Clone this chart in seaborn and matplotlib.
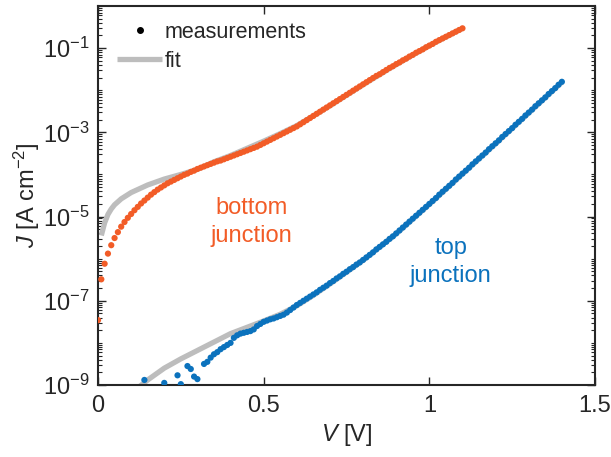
import numpy as np
import pandas as pd
import matplotlib
matplotlib.use("Agg")
import matplotlib.pyplot as plt
import seaborn as sns
from matplotlib.lines import Line2D
from matplotlib.ticker import FixedLocator, LogLocator, NullFormatter, LogFormatterSciNotation

# ---------------- data ----------------
# bottom junction: measured sweep 0 ... 1.10 V in 10 mV steps, log10(J / A cm^-2)
v_bottom = np.round(np.arange(0.0, 1.1001, 0.01), 2)
logj_bottom = [
    -7.46, -6.49, -6.12, -5.88, -5.68, -5.51, -5.37, -5.24, -5.13, -5.03,
    -4.94, -4.85, -4.77, -4.69, -4.62, -4.55, -4.48, -4.42, -4.36, -4.31,
    -4.26, -4.21, -4.17, -4.13, -4.09, -4.05, -4.01, -3.98, -3.94, -3.91,
    -3.87, -3.84, -3.81, -3.78, -3.75, -3.72, -3.69, -3.67, -3.64, -3.61,
    -3.58, -3.55, -3.52, -3.49, -3.46, -3.43, -3.40, -3.37, -3.34, -3.30,
    -3.26, -3.22, -3.18, -3.14, -3.10, -3.06, -3.02, -2.98, -2.94, -2.90,
    -2.86, -2.81, -2.76, -2.71, -2.66, -2.61, -2.56, -2.51, -2.46, -2.41,
    -2.36, -2.31, -2.26, -2.21, -2.16, -2.11, -2.06, -2.01, -1.96, -1.91,
    -1.86, -1.81, -1.76, -1.71, -1.66, -1.62, -1.57, -1.52, -1.47, -1.43,
    -1.38, -1.34, -1.29, -1.25, -1.20, -1.16, -1.11, -1.07, -1.03, -0.98,
    -0.94, -0.90, -0.85, -0.81, -0.77, -0.73, -0.69, -0.65, -0.61, -0.57,
    -0.53,
]

# top junction: noisy low-bias points, then the regular sweep 0.32 ... 1.40 V
v_top_low = [0.14, 0.20, 0.24, 0.25, 0.27, 0.28, 0.29, 0.30]
logj_top_low = [-8.88, -8.95, -8.77, -8.98, -8.55, -8.62, -8.80, -8.86]
v_top_high = np.round(np.arange(0.32, 1.4001, 0.01), 2)
logj_top_high = [
    -8.50, -8.45, -8.35, -8.27, -8.22, -8.15, -8.10, -8.05, -8.00,
    -7.88, -7.82, -7.78, -7.76, -7.74, -7.72, -7.68, -7.60, -7.55, -7.50,
    -7.47, -7.44, -7.42, -7.39, -7.36, -7.33, -7.28, -7.22, -7.16, -7.10,
    -7.05, -7.00, -6.95, -6.90, -6.85, -6.80, -6.74, -6.69, -6.64, -6.58,
    -6.53, -6.47, -6.42, -6.36, -6.31, -6.25, -6.20, -6.14, -6.09, -6.03,
    -5.97, -5.91, -5.85, -5.78, -5.72, -5.66, -5.60, -5.53, -5.47, -5.40,
    -5.33, -5.26, -5.19, -5.12, -5.05, -4.98, -4.91, -4.84, -4.77, -4.70,
    -4.63, -4.56, -4.48, -4.41, -4.34, -4.27, -4.20, -4.12, -4.05, -3.98,
    -3.91, -3.84, -3.76, -3.69, -3.62, -3.55, -3.48, -3.40, -3.33, -3.26,
    -3.19, -3.11, -3.04, -2.97, -2.90, -2.82, -2.75, -2.68, -2.60, -2.53,
    -2.46, -2.38, -2.31, -2.24, -2.17, -2.09, -2.02, -1.95, -1.87, -1.80,
]

# model fits
v_fit_bottom = [0.010, 0.015, 0.02, 0.03, 0.04, 0.05, 0.07, 0.10, 0.15, 0.20,
                0.25, 0.30, 0.35, 0.40, 0.45, 0.50, 0.55, 0.60, 0.65, 0.70,
                0.80, 0.90, 1.00, 1.10]
logj_fit_bottom = [-5.45, -5.30, -5.15, -4.95, -4.82, -4.72, -4.58, -4.43, -4.25, -4.11,
                   -4.00, -3.88, -3.70, -3.55, -3.38, -3.21, -3.03, -2.84, -2.61, -2.37,
                   -1.87, -1.39, -0.94, -0.53]
v_fit_top = [0.12, 0.15, 0.20, 0.25, 0.30, 0.35, 0.40, 0.45, 0.50, 0.55,
             0.60, 0.65, 0.70, 0.80, 0.90, 1.00, 1.10, 1.20, 1.30, 1.40]
logj_fit_top = [-9.07, -8.88, -8.60, -8.38, -8.18, -7.98, -7.78, -7.63, -7.48, -7.32,
                -7.12, -6.87, -6.60, -6.04, -5.41, -4.71, -3.99, -3.27, -2.54, -1.81]

x_ticks = [0, 0.5, 1, 1.5]
x_tick_labels = ["0", "0.5", "1", "1.5"]
y_ticks = [1e-9, 1e-7, 1e-5, 1e-3, 1e-1]

meas = pd.concat([
    pd.DataFrame({"V": v_bottom, "J": 10.0 ** np.array(logj_bottom), "junction": "bottom"}),
    pd.DataFrame({"V": np.r_[v_top_low, v_top_high],
                  "J": 10.0 ** np.r_[logj_top_low, logj_top_high], "junction": "top"}),
], ignore_index=True)
fits = pd.concat([
    pd.DataFrame({"V": v_fit_bottom, "J": 10.0 ** np.array(logj_fit_bottom), "junction": "bottom"}),
    pd.DataFrame({"V": v_fit_top, "J": 10.0 ** np.array(logj_fit_top), "junction": "top"}),
], ignore_index=True)

# ---------------- style ----------------
ORANGE = "#F25C27"
BLUE = "#0B72BD"
GREY = "#BDBDBD"
INK = "#262626"

sns.set_style("ticks")
plt.rcParams.update({
    "font.family": ["Liberation Sans", "DejaVu Sans"],
    "mathtext.fontset": "custom",
    "mathtext.rm": "Liberation Sans",
    "mathtext.it": "Liberation Sans:italic",
    "mathtext.bf": "Liberation Sans:bold",
})

fig = plt.figure(figsize=(6.11, 4.57), dpi=100)
ax = fig.add_axes([98 / 611, 1 - 385 / 457, 497 / 611, 379 / 457])

sns.lineplot(data=fits, x="V", y="J", units="junction", estimator=None, sort=False,
             color=GREY, linewidth=3.8, solid_capstyle="butt", legend=False, ax=ax)
sns.scatterplot(data=meas, x="V", y="J", hue="junction",
                palette={"bottom": ORANGE, "top": BLUE},
                s=20, linewidth=0, legend=False, ax=ax, zorder=3)

ax.set_yscale("log")
ax.set_xlim(0, 1.5)
ax.set_ylim(1e-9, 1)

ax.xaxis.set_major_locator(FixedLocator(x_ticks))
ax.set_xticklabels(x_tick_labels)
ax.yaxis.set_major_locator(FixedLocator(y_ticks))
ax.yaxis.set_major_formatter(LogFormatterSciNotation())
ax.yaxis.set_minor_locator(LogLocator(base=10, subs=np.arange(1, 10), numticks=40))
ax.yaxis.set_minor_formatter(NullFormatter())

for side in ["left", "right", "top", "bottom"]:
    ax.spines[side].set_visible(True)
    ax.spines[side].set_color(INK)
    ax.spines[side].set_linewidth(1.5)

# inward ticks on all four sides, as in a boxed log-log style axis
ax.tick_params(which="both", direction="in", top=True, right=True, bottom=True, left=True,
               color=INK, labelcolor=INK, labelsize=17)
ax.tick_params(which="major", length=5.5, width=1.0)
ax.tick_params(which="minor", length=3.2, width=0.8)
ax.tick_params(axis="x", pad=7)
ax.tick_params(axis="y", pad=6)

ax.set_xlabel("$V$ [V]", fontsize=17, color=INK, labelpad=4)
ax.set_ylabel("$J$ [A cm$^{-2}$]", fontsize=17, color=INK, labelpad=1)

ax.text(0.462, 2.5e-6, "bottom\njunction", color=ORANGE, fontsize=17,
        ha="center", va="baseline", linespacing=1.35)
ax.text(1.065, 2.8e-7, "top\njunction", color=BLUE, fontsize=17,
        ha="center", va="baseline", linespacing=1.35)

handles = [
    Line2D([], [], linestyle="none", marker="o", markersize=4, color="black"),
    Line2D([], [], color=GREY, linewidth=3.8, solid_capstyle="butt"),
]
ax.legend(handles, ["measurements", "fit"], loc="upper left",
          bbox_to_anchor=(19 / 497, 1 - 16 / 379), borderaxespad=0, borderpad=0,
          frameon=False, fontsize=15.5, handlelength=2.1, handletextpad=0.1,
          labelspacing=0.35)

fig.savefig("out.png", dpi=100)
